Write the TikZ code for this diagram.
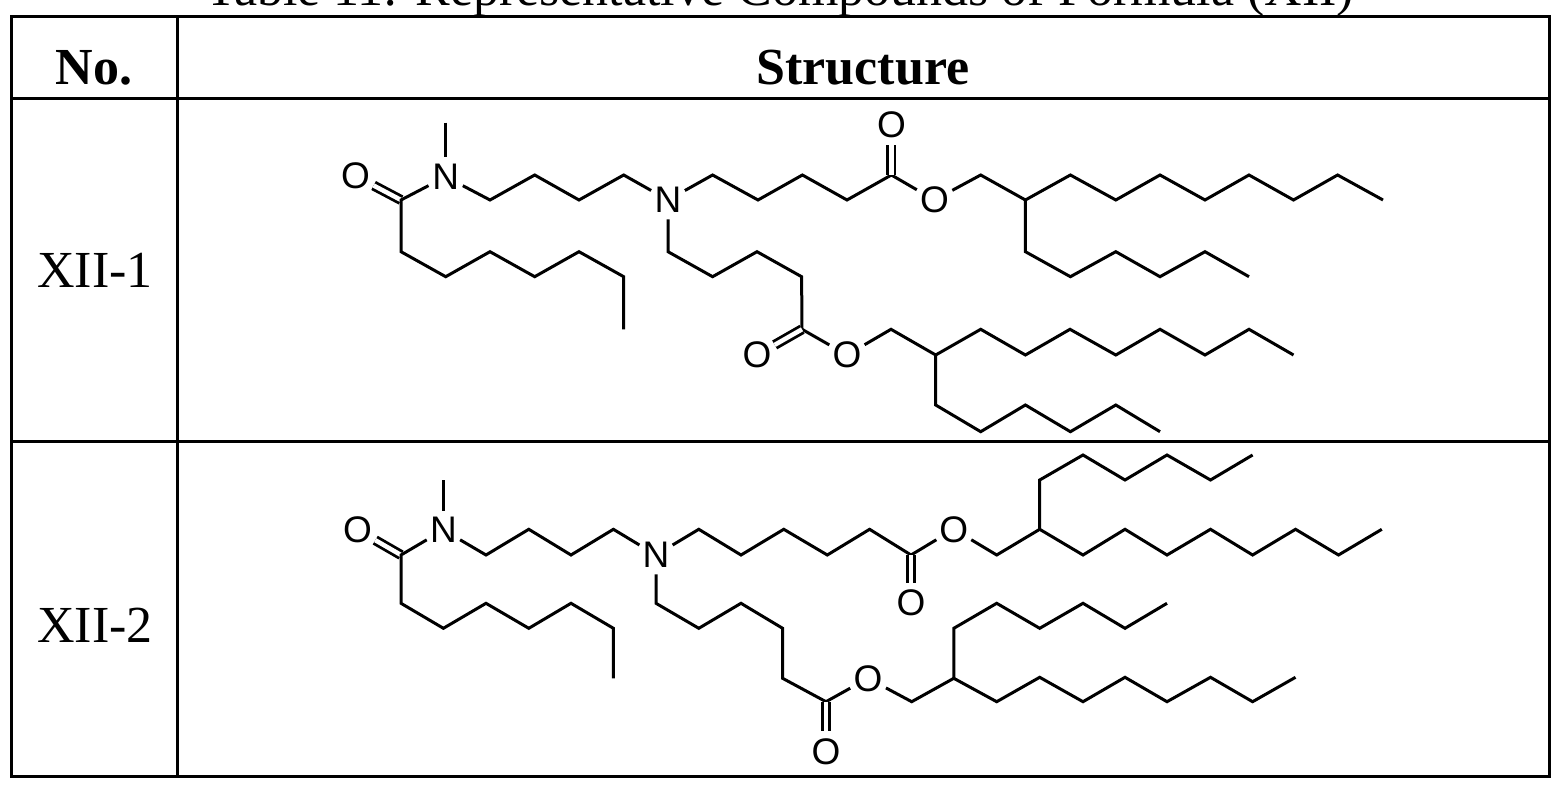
\documentclass[tikz,border=0pt]{standalone}
\usepackage{fontspec}
\setmainfont{Liberation Serif}
\newfontfamily\atomfont{Liberation Sans}
\begin{document}
\begin{tikzpicture}[x=1pt,y=-1pt,
  bond/.style={line width=3pt,line join=miter},
  dbl/.style={line width=2.8pt,double,double distance=4.5pt},
  atom/.style={circle,inner sep=0.5pt,font=\atomfont\fontsize{37}{37}\selectfont},
  frame/.style={line width=3pt},
  cell/.style={font=\fontsize{52}{52}\selectfont}]
\useasboundingbox (0,0) rectangle (1559,786);
\clip (0,0) rectangle (1559,786);
% table
\draw[frame] (11,16.5) rectangle (1549,776);
\draw[frame] (177.5,16.5) -- (177.5,776);
\draw[frame] (11,99) -- (1549,99);
\draw[frame] (11,441) -- (1549,441);
\node[cell,anchor=base] (title) at (780,6) {Table 11: Representative Compounds of Formula (XII)};
\node[cell,anchor=base,font=\fontsize{52}{52}\selectfont\bfseries] (hno) at (94,85) {No.};
\node[cell,anchor=base,font=\fontsize{52}{52}\selectfont\bfseries] (hst) at (863,85) {Structure};
\node[cell] (l1) at (95,270) {XII-1};
\node[cell] (l2) at (95,625) {XII-2};
% ---------- XII-1
\node[atom] (aN1) at (445.7,176.7) {N};
\node[atom] (aO1) at (355.6,176) {O};
\node[atom] (aN2) at (668,200) {N};
\node[atom] (aO2) at (891.4,125) {O};
\node[atom] (aO3) at (934.4,200) {O};
\node[atom] (aO4) at (757,355) {O};
\node[atom] (aO5) at (847,355) {O};
\coordinate (c1) at (401,200);
\coordinate (c2) at (891.4,175);
\coordinate (c3) at (802,329.3);
\coordinate (b1) at (1025.4,200);
\coordinate (b2) at (935.7,355);
\draw[bond] (445.7,122.7) -- (aN1);
\draw[dbl] (aO1) -- (c1);
\draw[bond] (aN1) -- (c1) -- (401,251.7) -- (445.7,276.7) -- (490,251.7) -- (534.7,276.7) -- (579,251.7) -- (623.7,276.7) -- (623.7,329.3);
\draw[bond] (aN1) -- (490,200) -- (534.7,175) -- (579,200) -- (623.7,175) -- (aN2);
\draw[bond] (aN2) -- (712.6,175) -- (758,200) -- (802.4,175) -- (847,200) -- (c2) -- (aO3);
\draw[dbl] (c2) -- (aO2);
\draw[bond] (aO3) -- (980.7,175) -- (b1) -- (1070.4,175) -- (1115.8,200) -- (1160,175) -- (1205,200) -- (1249,175) -- (1293.5,200) -- (1337.6,175) -- (1383,200);
\draw[bond] (b1) -- (1025.4,251.7) -- (1070.4,276.7) -- (1115.8,251.7) -- (1160,276.7) -- (1205,251.7) -- (1249,276.7);
\draw[bond] (aN2) -- (668,251.7) -- (712.6,276.7) -- (757,251.7) -- (801.6,276.7) -- (c3) -- (aO5);
\draw[dbl] (c3) -- (aO4);
\draw[bond] (aO5) -- (891,329.3) -- (b2) -- (980.7,329.3) -- (1025.4,355) -- (1070,329.3) -- (1115.8,355) -- (1160,329.3) -- (1205,355) -- (1249,329.3) -- (1293.5,355);
\draw[bond] (b2) -- (935.7,405) -- (980.7,431.7) -- (1025.4,405) -- (1070.4,431.7) -- (1115.8,405) -- (1160,431.7);
% ---------- XII-2
\node[atom] (bN1) at (443.4,530) {N};
\node[atom] (bO1) at (357.6,530) {O};
\node[atom] (bN2) at (656,555) {N};
\node[atom] (bO2) at (911,603) {O};
\node[atom] (bO3) at (953.8,529.3) {O};
\node[atom] (bO4) at (826,751.7) {O};
\node[atom] (bO5) at (868,678.3) {O};
\coordinate (d1) at (401,555);
\coordinate (d2) at (911,555);
\coordinate (d3) at (826,701.7);
\coordinate (e1) at (1039.7,529.3);
\coordinate (e2) at (953.8,678.3);
\draw[bond] (443.4,480) -- (bN1);
\draw[dbl] (bO1) -- (d1);
\draw[bond] (bN1) -- (d1) -- (401,603.3) -- (443.4,628.3) -- (486,603.3) -- (528.8,628.3) -- (571,603.3) -- (613.4,628.3) -- (613.4,678.3);
\draw[bond] (bN1) -- (486,555) -- (528.8,529.3) -- (571,555) -- (613.4,529.3) -- (bN2);
\draw[bond] (bN2) -- (698.8,529.3) -- (741,555) -- (783.8,529.3) -- (827.3,555) -- (869.6,529.3) -- (d2) -- (bO3);
\draw[dbl] (d2) -- (bO2);
\draw[bond] (bO3) -- (996.7,555) -- (e1) -- (1083,555) -- (1125,529.3) -- (1167,555) -- (1210.5,529.3) -- (1252.6,555) -- (1295.5,529.3) -- (1338.5,555) -- (1381.8,529.3);
\draw[bond] (e1) -- (1039.7,480) -- (1083,455) -- (1125,480) -- (1167,455) -- (1210.5,480) -- (1252.6,455);
\draw[bond] (bN2) -- (656,603.3) -- (698.8,628.3) -- (741,603.3) -- (782.6,628.3) -- (782.6,678.3) -- (d3) -- (bO5);
\draw[dbl] (d3) -- (bO4);
\draw[bond] (bO5) -- (911.7,701.7) -- (e2) -- (996.7,701.7) -- (1039.7,677.3) -- (1083,701.7) -- (1125,677.3) -- (1167,701.7) -- (1210.5,677.3) -- (1252.6,701.7) -- (1295.5,677.3);
\draw[bond] (e2) -- (953.8,628.3) -- (996.7,603.3) -- (1039.7,628.3) -- (1083,603.3) -- (1125,628.3) -- (1167,603.3);
\end{tikzpicture}
\end{document}
